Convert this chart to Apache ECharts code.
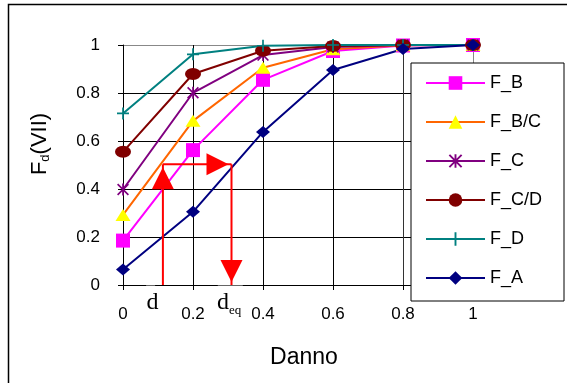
<!DOCTYPE html>
<html><head><meta charset="utf-8">
<script src="https://cdn.jsdelivr.net/npm/echarts@6/dist/echarts.min.js"></script>
<style>html,body{margin:0;padding:0;background:#fff}#c{width:567px;height:383px}</style>
</head><body><div id="c"></div>
<script>
// ---- data ----
const xValues = [0, 0.2, 0.4, 0.6, 0.8, 1];
const seriesNames = ['F_B', 'F_B/C', 'F_C', 'F_C/D', 'F_D', 'F_A'];
const F_B  = [0.185, 0.562, 0.855, 0.975, 0.998, 1.0];
const F_BC = [0.292, 0.684, 0.905, 0.982, 0.999, 1.0];
const F_C  = [0.398, 0.801, 0.958, 0.992, 1.0, 1.0];
const F_CD = [0.555, 0.879, 0.976, 0.996, 1.0, 1.0];
const F_D  = [0.715, 0.961, 0.997, 1.0, 1.0, 1.0];
const F_A  = [0.065, 0.305, 0.638, 0.896, 0.983, 1.0];
const xTickLabels = ['0', '0.2', '0.4', '0.6', '0.8', '1'];
const yTickLabels = ['0', '0.2', '0.4', '0.6', '0.8', '1'];
// annotation (data space): damage d, equivalent damage d_eq, probability level
const dValue = 0.114;
const deqValue = 0.31;
const fLevel = 0.503;
const arrowSegments = [
  [dValue, 0, dValue, fLevel],
  [dValue, fLevel, deqValue, fLevel],
  [deqValue, fLevel, deqValue, 0]
];
const annotLabels = [[dValue, 0], [deqValue, 0]];
const annotText = [['d', ''], ['d', 'eq']];

const allValues = [F_B, F_BC, F_C, F_CD, F_D, F_A];
const starPath = 'path://M0,1L1,0L10,9L9,10Z M9,0L10,1L1,10L0,9Z M4.3,0H5.7V10H4.3Z';
const plusPath = 'path://M0,4.3H10V5.7H0Z M4.3,0H5.7V10H4.3Z';
const styles = [
  {line: '#FF00FF', fill: '#FF00FF', symbol: 'rect', size: 14},
  {line: '#FF6600', fill: '#FFFF00', symbol: 'triangle', size: [15, 12]},
  {line: '#800080', fill: '#800080', symbol: starPath, size: 12},
  {line: '#800000', fill: '#800000', symbol: 'circle', size: [16, 12]},
  {line: '#008080', fill: '#008080', symbol: plusPath, size: 12},
  {line: '#000080', fill: '#000080', symbol: 'diamond', size: [14, 12]}
];

const lineSeries = seriesNames.map((name, i) => ({
  name: name,
  type: 'line',
  data: xValues.map((x, j) => [x, allValues[i][j]]),
  symbol: styles[i].symbol,
  symbolSize: styles[i].size,
  showAllSymbol: true,
  itemStyle: {color: styles[i].fill, borderWidth: 0},
  lineStyle: {color: styles[i].line, width: 2},
  emphasis: {disabled: true},
  animation: false
}));

const FONT = 'Liberation Sans, Arial, sans-serif';
const SERIF = 'Liberation Serif, Times New Roman, serif';

const arrowSeries = {
  type: 'custom',
  data: arrowSegments,
  encode: {x: [0, 2], y: [1, 3]},
  silent: true,
  z: 5,
  renderItem: function (params, api) {
    const p1 = api.coord([api.value(0), api.value(1)]);
    const p2 = api.coord([api.value(2), api.value(3)]);
    const dx = p2[0] - p1[0], dy = p2[1] - p1[1];
    const L = Math.sqrt(dx * dx + dy * dy) || 1;
    const ux = dx / L, uy = dy / L;
    const back = 3, len = 22, half = 11;
    const tip = [p2[0] - ux * back, p2[1] - uy * back];
    const base = [tip[0] - ux * len, tip[1] - uy * len];
    const nx = -uy, ny = ux;
    return {
      type: 'group',
      children: [
        {type: 'line', shape: {x1: p1[0], y1: p1[1], x2: p2[0], y2: p2[1]},
         style: {stroke: '#FF0000', lineWidth: 2}},
        {type: 'polygon', shape: {points: [tip,
          [base[0] + nx * half, base[1] + ny * half],
          [base[0] - nx * half, base[1] - ny * half]]},
         style: {fill: '#FF0000'}}
      ]
    };
  }
};

const labelSeries = {
  type: 'custom',
  data: annotLabels,
  encode: {x: 0, y: 1},
  silent: true,
  z: 6,
  renderItem: function (params, api) {
    const p = api.coord([api.value(0), api.value(1)]);
    const t = annotText[params.dataIndex];
    const children = [];
    if (t[1]) {
      children.push({type: 'rect', shape: {x: p[0] - 13.7, y: p[1] + 0.6, width: 25, height: 14},
        style: {fill: '#fff'}});
      children.push({type: 'text', x: p[0] - 8.4, y: p[1] + 18,
        style: {text: t[0], font: '24px ' + SERIF, fill: '#000', align: 'center', verticalAlign: 'middle'}});
      children.push({type: 'text', x: p[0] - 2.4, y: p[1] + 26,
        style: {text: t[1], font: '13px ' + SERIF, fill: '#000', align: 'left', verticalAlign: 'middle'}});
    } else {
      children.push({type: 'rect', shape: {x: p[0] - 16.8, y: p[1] + 0.6, width: 9, height: 14},
        style: {fill: '#fff'}});
      children.push({type: 'text', x: p[0] - 10.3, y: p[1] + 18,
        style: {text: t[0], font: '24px ' + SERIF, fill: '#000', align: 'center', verticalAlign: 'middle'}});
    }
    return {type: 'group', children: children};
  }
};

const chart = echarts.init(document.getElementById('c'), null, {renderer: 'canvas'});
chart.setOption({
  animation: false,
  backgroundColor: '#fff',
  grid: {left: 123, right: 94, top: 45, bottom: 98, containLabel: false},
  xAxis: {
    type: 'value', min: 0, max: 1, interval: 0.2,
    axisLine: {show: true, onZero: false, lineStyle: {color: '#000', width: 1}},
    axisTick: {show: true, inside: false, length: 5, lineStyle: {color: '#000'}},
    axisLabel: {fontSize: 17, color: '#000', fontFamily: FONT, margin: 21,
      formatter: v => xTickLabels[Math.round(v / 0.2)]},
    splitLine: {show: true, lineStyle: {color: ['#000', '#000', '#000', '#000', '#333', '#888'], width: 1}}
  },
  yAxis: {
    type: 'value', min: 0, max: 1, interval: 0.2,
    axisLine: {show: true, onZero: false, lineStyle: {color: '#000', width: 1}},
    axisTick: {show: true, inside: false, length: 5, lineStyle: {color: '#000'}},
    axisLabel: {fontSize: 17, color: '#000', fontFamily: FONT, margin: 23,
      formatter: v => yTickLabels[Math.round(v / 0.2)]},
    splitLine: {show: true, lineStyle: {color: ['#000', '#000', '#000', '#000', '#000', '#888'], width: 1}}
  },
  legend: {
    data: seriesNames, orient: 'vertical', left: 411, top: 63,
    itemWidth: 59, itemHeight: 17, itemGap: 21,
    padding: [11, 22, 14, 14],
    borderColor: '#000', borderWidth: 1, backgroundColor: '#fff',
    textStyle: {fontSize: 18, color: '#000', fontFamily: FONT},
    selectedMode: false
  },
  graphic: [
    {type: 'rect', z: -10, shape: {x: 8.5, y: 4.5, width: 600, height: 420},
     style: {fill: 'none', stroke: '#000', lineWidth: 1.5}},
    {type: 'text', x: 304, y: 358,
     style: {text: 'Danno', font: '23px ' + FONT, fill: '#000', align: 'center', verticalAlign: 'middle'}},
    {type: 'text', x: 40, y: 144, rotation: Math.PI / 2,
     style: {text: '{a|F}{b|d}{a|(VII)}', align: 'center', verticalAlign: 'middle',
       rich: {a: {fontSize: 22, fontFamily: FONT, fill: '#000', lineHeight: 24, verticalAlign: 'middle'},
              b: {fontSize: 13, fontFamily: FONT, fill: '#000', lineHeight: 13, verticalAlign: 'bottom'}}}}
  ],
  series: lineSeries.concat([arrowSeries, labelSeries])
});
</script>
</body></html>
